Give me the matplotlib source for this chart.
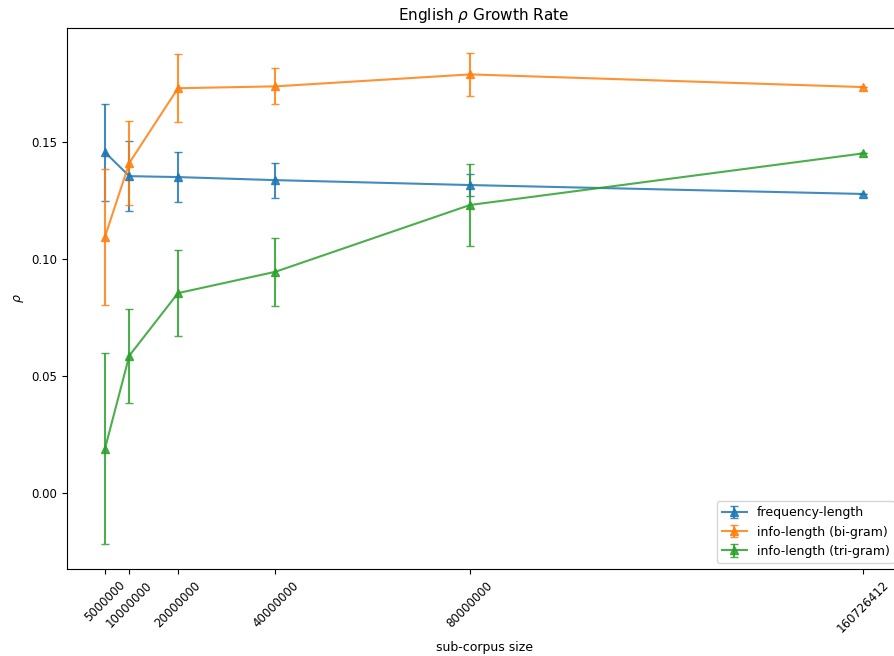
import matplotlib
matplotlib.use("Agg")
import matplotlib.pyplot as plt

sizes = [5000000, 10000000, 20000000, 40000000, 80000000, 160726412]
tick_labels = ["5000000", "10000000", "20000000", "40000000", "80000000", "160726412"]

freq_rho = [0.1455, 0.1353, 0.1349, 0.1336, 0.1315, 0.1277]
freq_err = [0.0207, 0.0149, 0.0106, 0.0075, 0.0047, 0.0]

bigram_rho = [0.1094, 0.1409, 0.1728, 0.1736, 0.1787, 0.1733]
bigram_err = [0.0290, 0.0180, 0.0145, 0.0077, 0.0093, 0.0]

trigram_rho = [0.0190, 0.0587, 0.0854, 0.0945, 0.1230, 0.1450]
trigram_err = [0.0408, 0.0201, 0.0183, 0.0145, 0.0174, 0.0]

fig = plt.figure(figsize=(8.95, 6.56), dpi=100)
ax = fig.add_axes([0.0749, 0.1326, 0.9318, 0.8247])

series = [
    (freq_rho, freq_err, "frequency-length", "#1f77b4"),
    (bigram_rho, bigram_err, "info-length (bi-gram)", "#ff7f0e"),
    (trigram_rho, trigram_err, "info-length (tri-gram)", "#2ca02c"),
]
for rho, err, label, color in series:
    ax.errorbar(sizes, rho, yerr=err, marker="^", color=color, capsize=3,
                label=label, alpha=0.85)

ax.set_xticks(sizes)
ax.set_xticklabels(tick_labels, rotation=45, fontsize=8.5)
ax.tick_params(axis="y", labelsize=8.5)
ax.set_yticks([0.0, 0.05, 0.10, 0.15])
ax.set_xlabel("sub-corpus size", fontsize=9)
ax.set_ylabel(r"$\rho$", fontsize=9)
ax.set_title(r"English $\rho$ Growth Rate", fontsize=11)
ax.legend(loc="lower right", fontsize=9)

fig.savefig("out.png", dpi=100)
